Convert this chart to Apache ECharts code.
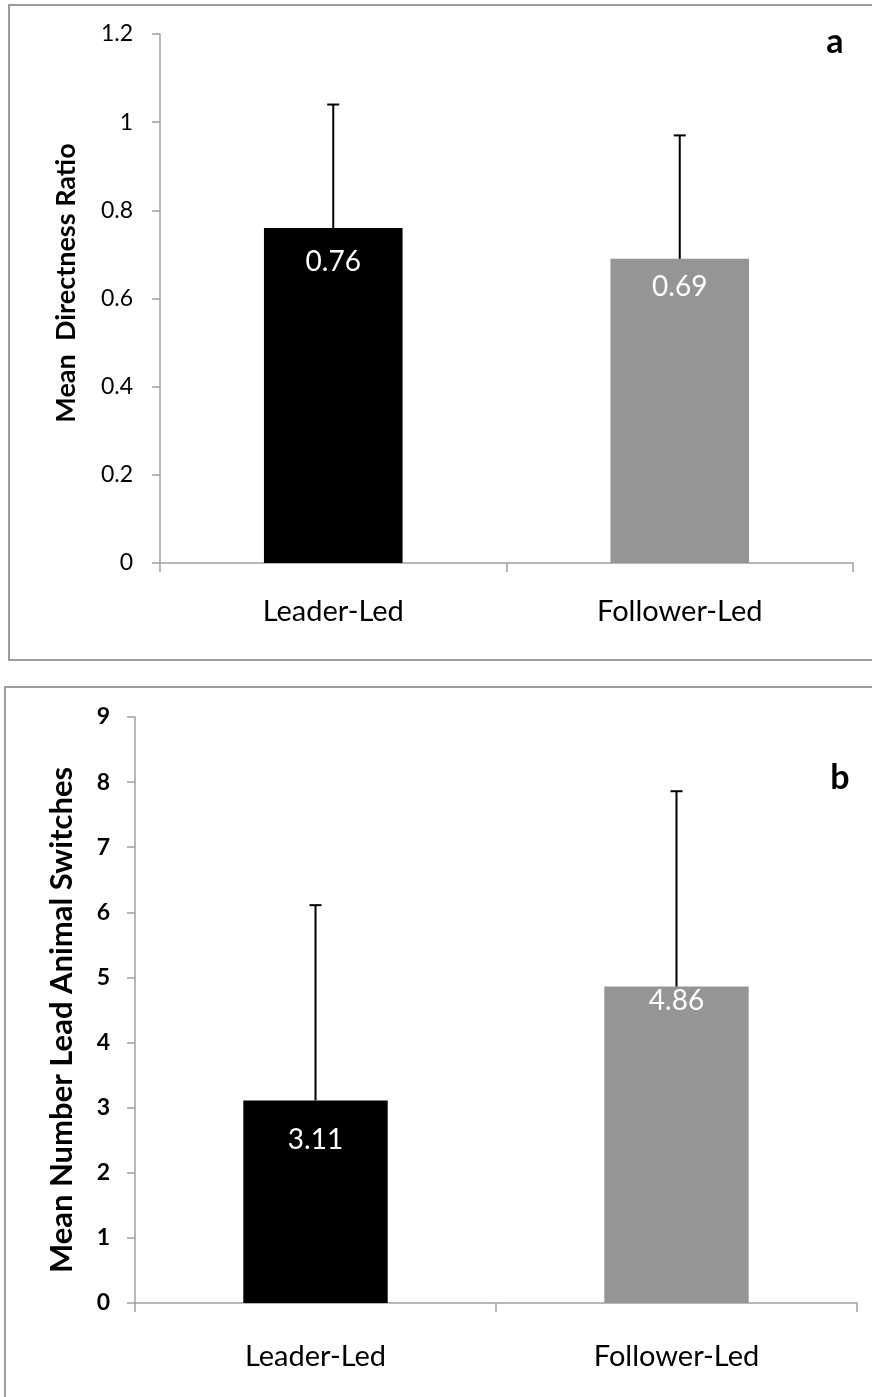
<!DOCTYPE html>
<html>
<head>
<meta charset="utf-8">
<script src="https://cdn.jsdelivr.net/npm/echarts@6/dist/echarts.min.js"></script>
<style>
html,body{margin:0;padding:0;background:#fff;}
#chart{width:872px;height:1397px;}
</style>
</head>
<body>
<div id="chart"></div>
<script>
const categories = ['Leader-Led', 'Follower-Led'];
const directnessMeans = [0.76, 0.69];
const directnessErr = [0.28, 0.28];
const switchesMeans = [3.11, 4.86];
const switchesErr = [3.00, 3.00];
const barColors = ['#000000', '#959595'];
const labelOffsetsA = [34, 28];
const labelOffsetsB = [39, 14];

const FONT = 'Lato';
const axisGray = '#a0a0a0';

function barData(vals, offs) {
  return vals.map((v, i) => ({
    value: v,
    itemStyle: { color: barColors[i] },
    label: { position: ['50%', offs[i]] }
  }));
}

function errRender(means, errs) {
  return function (params, api) {
    const i = api.value(0);
    const base = api.coord([i, means[i]]);
    const top = api.coord([i, means[i] + errs[i]]);
    const s = { stroke: '#000', lineWidth: 2 };
    return {
      type: 'group',
      children: [
        { type: 'line', shape: { x1: base[0], y1: base[1], x2: top[0], y2: top[1] }, style: s },
        { type: 'line', shape: { x1: top[0] - 6, y1: top[1], x2: top[0] + 6, y2: top[1] }, style: s }
      ]
    };
  };
}

function xAxisCfg(gi, margin) {
  return {
    type: 'category', gridIndex: gi, data: categories,
    axisLine: { lineStyle: { color: axisGray, width: 1.5 } },
    axisTick: { show: true, length: 9, lineStyle: { color: axisGray, width: 1.5 } },
    axisLabel: { color: '#000', fontFamily: FONT, fontSize: 29, margin: margin }
  };
}

function txt(x, y, text, size, rot) {
  return {
    type: 'text', x: x, y: y, rotation: rot || 0, silent: true,
    style: { text: text, fontFamily: FONT, fontWeight: 'bold', fontSize: size, fill: '#000',
      textAlign: 'center', textVerticalAlign: 'middle', align: 'center', verticalAlign: 'middle' }
  };
}

const chart = echarts.init(document.getElementById('chart'), null, { renderer: 'canvas' });
chart.setOption({
  animation: false,
  backgroundColor: '#fff',
  grid: [
    { left: 160, right: 19, top: 34, bottom: 1397 - 563 },
    { left: 135, right: 15, top: 717, bottom: 1397 - 1303 }
  ],
  xAxis: [xAxisCfg(0, 34), xAxisCfg(1, 39)],
  yAxis: [
    {
      type: 'value', gridIndex: 0, min: 0, max: 1.2, interval: 0.2,
      splitLine: { show: false },
      axisLine: { show: true, lineStyle: { color: axisGray, width: 1.5 } },
      axisTick: { show: true, length: 8, lineStyle: { color: axisGray, width: 1.5 } },
      axisLabel: { color: '#000', fontFamily: FONT, fontSize: 23, margin: 27 }
    },
    {
      type: 'value', gridIndex: 1, min: 0, max: 9, interval: 1,
      splitLine: { show: false },
      axisLine: { show: true, lineStyle: { color: axisGray, width: 1.5 } },
      axisTick: { show: true, length: 8, lineStyle: { color: axisGray, width: 1.5 } },
      axisLabel: { color: '#000', fontFamily: FONT, fontSize: 23, fontWeight: 'bold', margin: 25 }
    }
  ],
  series: [
    {
      type: 'bar', xAxisIndex: 0, yAxisIndex: 0, barWidth: '40%',
      data: barData(directnessMeans, labelOffsetsA),
      label: { show: true, color: '#fff', fontFamily: FONT, fontSize: 28, align: 'center', verticalAlign: 'middle' }
    },
    {
      type: 'custom', xAxisIndex: 0, yAxisIndex: 0, z: 5,
      data: directnessMeans.map((v, i) => [i, v]),
      renderItem: errRender(directnessMeans, directnessErr)
    },
    {
      type: 'bar', xAxisIndex: 1, yAxisIndex: 1, barWidth: '40%',
      data: barData(switchesMeans, labelOffsetsB),
      label: { show: true, color: '#fff', fontFamily: FONT, fontSize: 28, align: 'center', verticalAlign: 'middle' }
    },
    {
      type: 'custom', xAxisIndex: 1, yAxisIndex: 1, z: 5,
      data: switchesMeans.map((v, i) => [i, v]),
      renderItem: errRender(switchesMeans, switchesErr)
    }
  ],
  graphic: [
    { type: 'rect', shape: { x: 9, y: 5, width: 870, height: 655 }, style: { fill: 'none', stroke: '#9d9d9d', lineWidth: 2 }, silent: true },
    { type: 'rect', shape: { x: 5, y: 687, width: 880, height: 730 }, style: { fill: 'none', stroke: '#9d9d9d', lineWidth: 2 }, silent: true },
    txt(66, 283, 'Mean  Directness Ratio', 27, Math.PI / 2),
    txt(62, 1020, 'Mean Number Lead Animal Switches', 31, Math.PI / 2),
    txt(835, 42, 'a', 34),
    txt(840, 778, 'b', 34)
  ]
});
</script>
</body>
</html>
